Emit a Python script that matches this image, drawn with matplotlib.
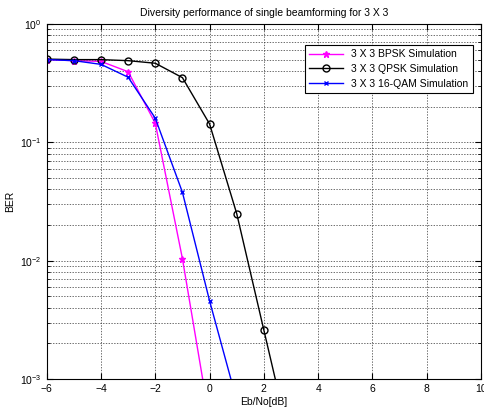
import numpy as np
import matplotlib
matplotlib.use('Agg')
import matplotlib.pyplot as plt

plt.rcParams['font.family'] = ['Liberation Sans', 'DejaVu Sans']

ebno = [-6, -5, -4, -3, -2, -1, 0, 1, 2, 3]

# BER values
ber_bpsk = [0.5, 0.49, 0.483, 0.395, 0.145, 0.0104, 0.00045]
ber_qpsk = [0.505, 0.5, 0.5, 0.49, 0.466, 0.352, 0.143, 0.025, 0.00259, 0.00027]
ber_qam16 = [0.5, 0.49, 0.456, 0.355, 0.16, 0.0378, 0.00458, 0.00066]

fig = plt.figure(figsize=(4.84, 4.13), dpi=100)
ax = fig.add_axes([0.0965, 0.0823, 0.8973, 0.8596])

ax.semilogy(ebno[:len(ber_bpsk)], ber_bpsk, color='#ff00ff', marker='*', markersize=5,
            linewidth=1, label='3 X 3 BPSK Simulation')
ax.semilogy(ebno[:len(ber_qpsk)], ber_qpsk, color='black', marker='o', markersize=5,
            markerfacecolor='none', linewidth=1, label='3 X 3 QPSK Simulation')
ax.semilogy(ebno[:len(ber_qam16)], ber_qam16, color='blue', marker='x', markersize=3,
            linewidth=1, label='3 X 3 16-QAM Simulation')

ax.set_xlim(-6, 10)
ax.set_ylim(1e-3, 1)
ax.set_xticks(range(-6, 11, 2))
ax.grid(True, which='major', color='#333333', linestyle=(0, (2, 2)), linewidth=0.5)
ax.grid(True, which='minor', axis='y', color='#333333', linestyle=(0, (2, 2)), linewidth=0.5)
ax.tick_params(which='both', direction='in', labelsize=7.5, top=True, right=True)
ax.tick_params(which='major', length=4)
ax.tick_params(which='minor', length=2)
for s in ax.spines.values():
    s.set_linewidth(0.8)

ax.set_title('Diversity performance of single beamforming for 3 X 3', fontsize=7.5)
ax.set_xlabel('Eb/No[dB]', fontsize=7.5, labelpad=2)
ax.set_ylabel('BER', fontsize=7.5)

leg = ax.legend(loc='upper right', fontsize=7.5, fancybox=False, framealpha=1,
                edgecolor='black', borderpad=0.4, handlelength=3.3,
                labelspacing=0.45, bbox_to_anchor=(0.993, 0.955))
leg.get_frame().set_linewidth(0.8)

fig.savefig('out.png', dpi=100)
